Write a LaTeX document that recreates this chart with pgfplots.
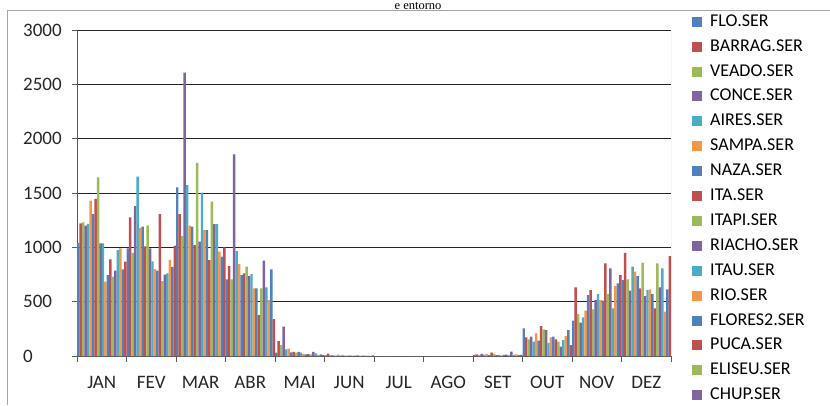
\documentclass[border=0pt]{standalone}
\usepackage{fontspec}
\setmainfont{Carlito}
\newfontfamily\titlefont{Liberation Serif}
\usepackage{pgfplots}
\usepackage{pgfplotstable}
\pgfplotsset{compat=1.18}

\definecolor{xblue}{HTML}{4F81BD}
\definecolor{xred}{HTML}{C0504D}
\definecolor{xgreen}{HTML}{9BBB59}
\definecolor{xpurple}{HTML}{8064A2}
\definecolor{xaqua}{HTML}{4BACC6}
\definecolor{xorange}{HTML}{F79646}

% square legend keys in place of the two-bar ybar ones
\pgfplotsset{ybar legend/.style={legend image code/.code={\fill[##1] (0pt,-5pt) rectangle (10pt,5pt);}}}

% monthly rainfall, one row per month, one column per station (20 stations)
\pgfplotstableread{
m s1 s2 s3 s4 s5 s6 s7 s8 s9 s10 s11 s12 s13 s14 s15 s16 s17 s18 s19 s20
1 1042 1221 1230 1200 1215 1429 1306 1447 1644 1037 1037 684 745 889 730 785 975 990 797 868
2 990 1275 950 1380 1650 1180 1190 1010 1200 990 870 800 785 1305 690 750 760 885 820 1015
3 1552 1306 1104 2607 1573 1199 1190 1021 1778 1052 1503 1159 1159 883 1420 1214 1214 960 914 1000
4 705 828 705 1855 966 846 745 760 822 736 754 622 622 377 622 877 632 515 797 340
5 30 138 101 270 62 67 34 37 30 37 30 18 15 18 15 37 25 8 15 8
6 5 22 8 5 4 12 3 6 4 3 5 4 3 5 2 4 3 3 2 5
7 0 0 0 0 0 0 0 0 0 0 0 0 0 0 0 0 0 0 0 0
8 0 0 0 0 0 0 0 0 0 0 0 0 0 0 0 0 0 0 0 0
9 10 15 8 20 12 18 10 30 20 8 10 5 10 12 8 40 10 15 8 10
10 255 172 153 178 132 209 141 276 245 239 122 172 178 153 132 86 147 184 239 101
11 325 632 386 307 356 417 561 607 429 515 570 515 509 853 570 807 439 644 669 745
12 699 950 705 601 822 776 736 622 858 552 607 613 570 439 853 632 807 408 613 920
}\chuva

\begin{document}
\begin{tikzpicture}
\path[use as bounding box] (0pt,0pt) rectangle (830pt,-405pt);
\draw[black!35, line width=0.8pt] (7pt,-405pt) -- (7pt,-10pt) -- (830pt,-10pt);
\node[font=\titlefont\fontsize{12.5}{15}\selectfont, anchor=base, inner sep=0pt] at (418pt,-9pt) {e entorno};
\begin{axis}[
    at={(77pt,-356pt)}, anchor=south west,
    scale only axis, width=594pt, height=326pt,
    xmin=0.5, xmax=12.5, ymin=0, ymax=3000,
    ybar=0pt, bar width=2.475pt,
    axis x line*=bottom, axis y line*=left,
    axis line style={-, black!65, line width=0.8pt},
    xtick={1,...,12},
    xticklabels={JAN,FEV,MAR,ABR,MAI,JUN,JUL,AGO,SET,OUT,NOV,DEZ},
    minor xtick={0.5,1.5,...,12.5},
    ytick={0,500,...,3000},
    tick align=outside, major tick length=5pt, minor tick length=6pt,
    tick style={black!65, line width=0.8pt},
    major x tick style={draw=none},
    ymajorgrids, y grid style={black!85, line width=0.9pt},
    tick label style={font=\fontsize{19}{22}\selectfont, text=black!85},
    yticklabel style={anchor=west, inner sep=0pt, xshift=-49pt},
    xticklabel style={anchor=north, inner sep=0pt, yshift=-15pt},
    scaled y ticks=false,
    /pgf/number format/1000 sep={},
    /pgf/number format/assume math mode=true,
    cycle list={{fill=xblue,draw=none},{fill=xred,draw=none},{fill=xgreen,draw=none},
                {fill=xpurple,draw=none},{fill=xaqua,draw=none},{fill=xorange,draw=none}},
    legend style={at={(1.0354,1.055)}, anchor=north west, draw=none, fill=none,
        font=\fontsize{18}{21}\selectfont, inner sep=0pt, row sep=5.9pt,
        nodes={inner sep=1pt, text height=13pt, text depth=4pt},
        /tikz/every odd column/.append style={column sep=7pt}},
    legend cell align=left,
    legend entries={FLO.SER,BARRAG.SER,VEADO.SER,CONCE.SER,AIRES.SER,SAMPA.SER,
        NAZA.SER,ITA.SER,ITAPI.SER,RIACHO.SER,ITAU.SER,RIO.SER,FLORES2.SER,
        PUCA.SER,ELISEU.SER,CHUP.SER},
]
\pgfplotsinvokeforeach{1,...,20}{
  \addplot table[x=m, y=s#1] {\chuva};
}
\draw[black!25, line width=0.8pt] (rel axis cs:1,0) -- (rel axis cs:1,1);
\end{axis}
\end{tikzpicture}
\end{document}
